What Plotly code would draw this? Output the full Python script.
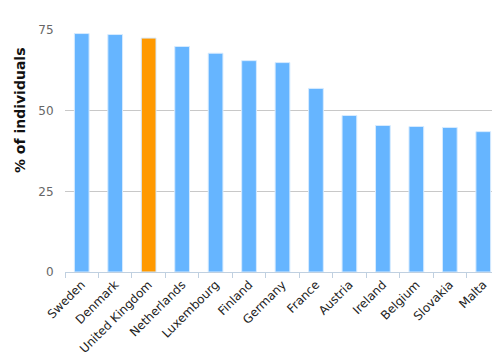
import plotly.graph_objects as go

countries = ["Sweden", "Denmark", "United Kingdom", "Netherlands", "Luxembourg", "Finland",
             "Germany", "France", "Austria", "Ireland", "Belgium", "Slovakia", "Malta"]
values = [73.9, 73.6, 72.5, 69.9, 67.8, 65.5, 64.9, 56.9, 48.5, 45.4, 45.1, 44.8, 43.5]
highlight = "United Kingdom"
y_ticks = [0, 25, 50, 75]
y_title = "% of individuals"

colors = ["#FF9900" if c == highlight else "#66B5FF" for c in countries]

fig = go.Figure(go.Bar(
    x=countries, y=values,
    marker=dict(color=colors, line=dict(color="#D6EBFF", width=1)),
    width=0.44,
))

# page body has an 8px default margin, so the figure is offset by 8px
fig.update_layout(
    width=492, height=351,
    margin=dict(l=57, r=0, t=22, b=87, autoexpand=False),
    paper_bgcolor="white", plot_bgcolor="white",
    font=dict(family="DejaVu Sans", size=11, color="#333"),
    showlegend=False,
)
fig.update_xaxes(
    type="category", tickson="boundaries", ticks="outside", ticklen=5,
    tickcolor="#C0D0E0", showline=True, linecolor="#C0D0E0", linewidth=1,
    tickangle=-45, showgrid=False, tickfont=dict(size=12, color="#222"),
    automargin=False,
)
fig.update_yaxes(
    range=[0, 75], tickvals=y_ticks, showgrid=True, gridcolor="#C8C8C8", gridwidth=1,
    zeroline=False, ticks="outside", ticklen=8, tickcolor="white",
    tickfont=dict(size=12, color="#666"), automargin=False,
)
fig.add_annotation(
    text="<b>" + y_title + "</b>", textangle=-90, showarrow=False,
    xref="paper", yref="paper", x=0, y=0.669, xanchor="center", yanchor="middle",
    xshift=-45, font=dict(size=14, color="#111"),
)
fig.write_html("out.html")
